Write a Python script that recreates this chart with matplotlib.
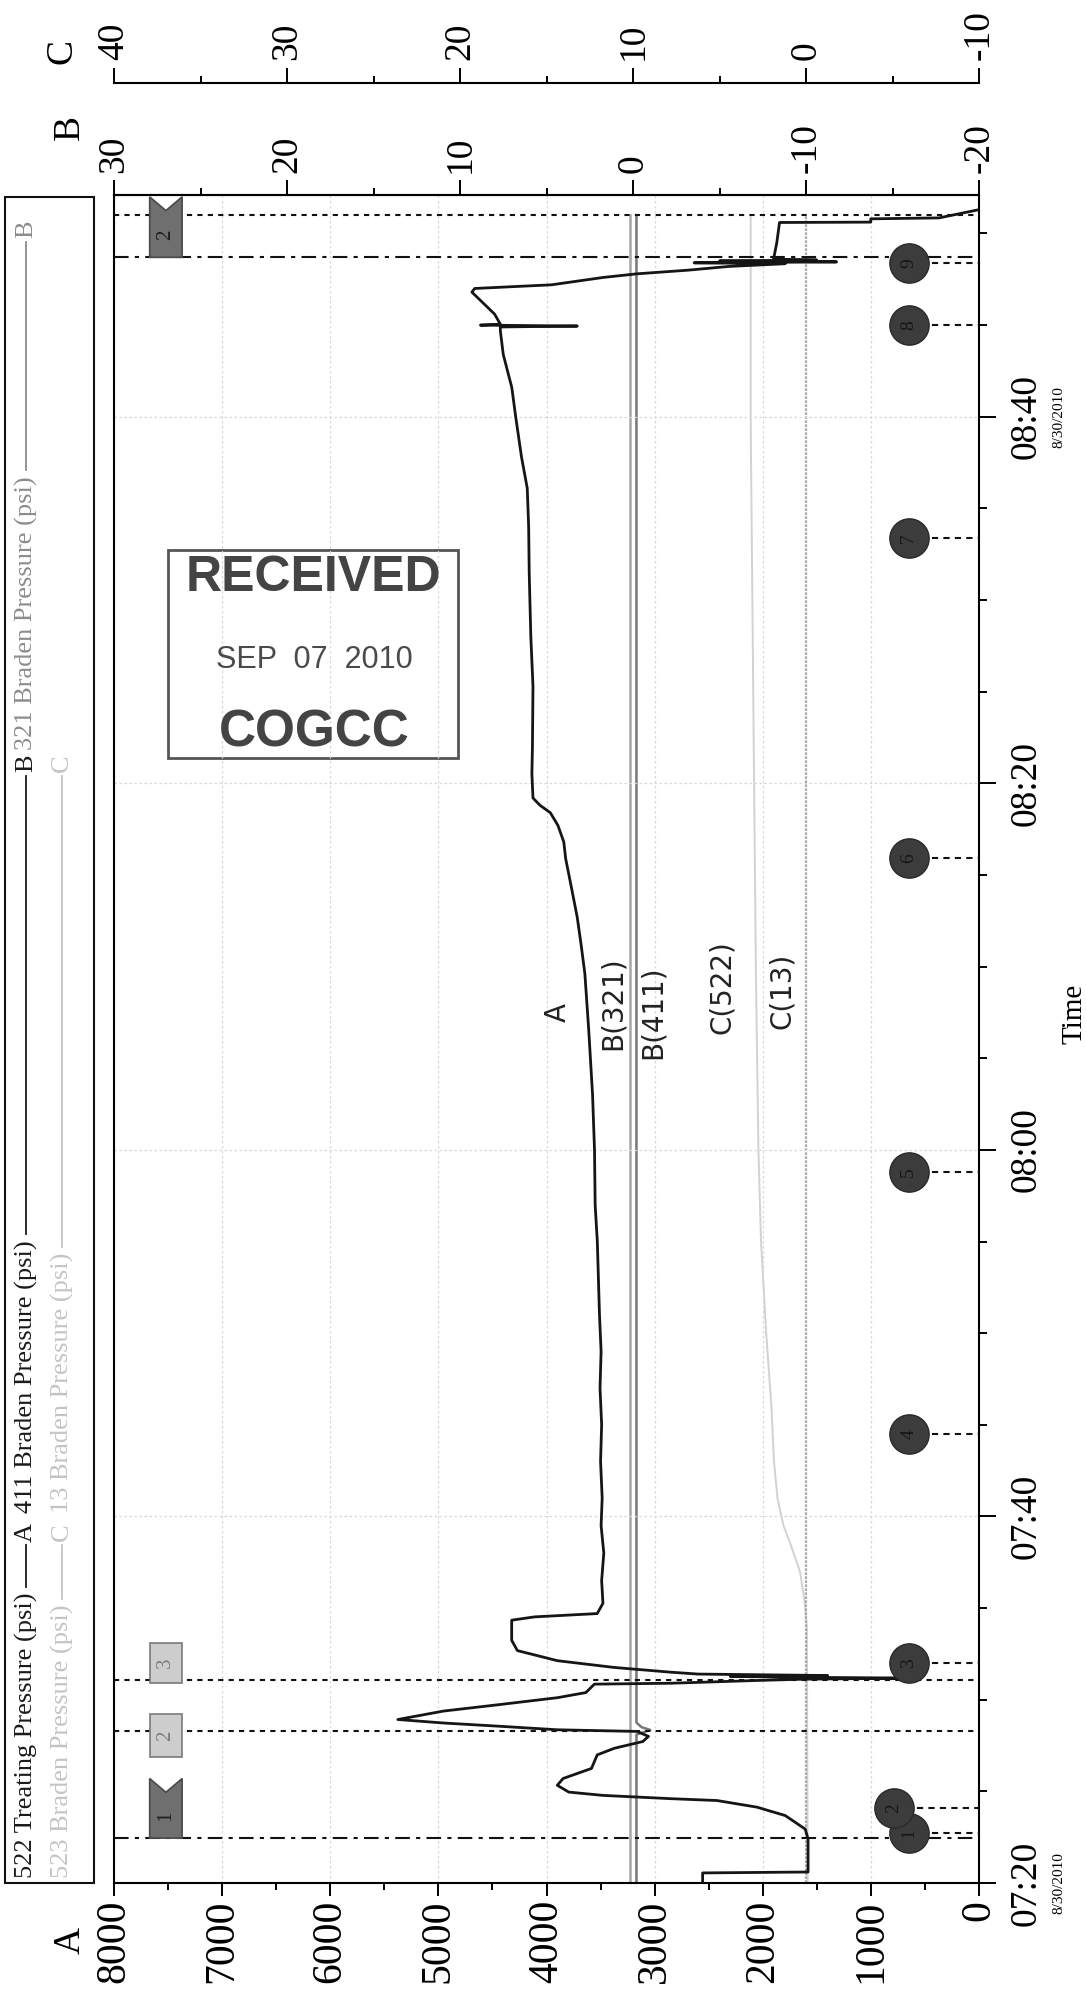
import matplotlib
matplotlib.use('Agg')
import matplotlib.pyplot as plt
from matplotlib.patches import Rectangle, Polygon
from matplotlib.lines import Line2D

plt.rcParams['font.family'] = ['Liberation Serif', 'DejaVu Serif']
plt.rcParams['axes.unicode_minus'] = False

# time = minutes after 07:20 on 8/30/2010
# A axis: 522 treating pressure (psi)
t_a = [0.0, 0.55, 0.6, 2.4, 2.94, 3.68, 4.14, 4.5, 4.6, 4.69, 4.78, 4.96, 5.33, 5.7,
       6.25, 6.99, 7.35, 7.72, 8.0, 8.27, 8.36, 8.55, 8.73, 8.92, 9.38, 9.74, 10.11,
       10.39, 10.85, 10.9, 11.05, 11.12, 11.18, 11.22, 11.27, 11.32, 11.4, 11.5, 11.76,
       12.13, 12.68, 13.24, 14.34, 14.52, 14.7, 15.26, 16.5, 18.0, 19.5, 21.0, 23.0,
       25.0, 27.0, 29.0, 31.0, 33.0, 35.0, 37.0, 40.0, 43.0, 46.5, 49.6, 51.2, 52.7,
       54.3, 55.9, 56.8, 57.7, 58.4, 58.8, 59.2, 60.5, 62.0, 65.3, 68.0, 71.5, 74.0,
       76.1, 77.8, 80.0, 81.6, 83.4, 84.7, 84.9, 84.95, 85.0, 85.05, 85.6, 86.8, 87.0,
       87.2, 87.6, 87.8, 88.0, 88.2, 88.35, 88.4, 88.45, 88.5, 88.55, 88.6, 89.5, 90.6,
       90.62, 90.8, 90.85, 91.3]
a_522 = [2556, 2556, 1581, 1581, 1607, 1792, 2055, 2424, 2846, 3162, 3478, 3794, 3900, 3847,
         3584, 3531, 3373, 3109, 3057, 3162, 3900, 4427, 4954, 5375, 4954, 4427, 3900,
         3636, 3557, 2846, 2055, 1634, 632, 1581, 2300, 1400, 2600, 2846, 3373,
         3900, 4269, 4322, 4322, 4111, 3531, 3478, 3490, 3470, 3495, 3485, 3500,
         3490, 3505, 3495, 3510, 3520, 3530, 3550, 3556, 3574, 3609, 3645, 3680, 3716,
         3769, 3823, 3840, 3894, 3965, 4060, 4125, 4135, 4130, 4125, 4145, 4160, 4165,
         4178, 4231, 4285, 4321, 4400, 4427, 4427, 3715, 4611, 4427, 4480, 4690, 4664,
         3953, 3478, 3162, 2688, 2319, 1792, 2635, 1317, 2400, 1500, 1900, 1870, 1845,
         1001, 1001, 370, 0]

# B axis: 411 / 321 braden pressure
t_b = [0.0, 8.1, 8.35, 8.5, 8.75, 91.0]
b_411 = [-0.2, -0.2, -1.0, -0.5, -0.2, -0.2]
b_321 = [0.15, 0.15, 0.15, 0.15, 0.15, 0.15]

# C axis: 523 / 13 braden pressure
t_c = [0.0, 14.0, 15.5, 17.0, 18.5, 19.5, 21.0, 23.0, 26.0, 30.0, 35.0, 40.0, 50.0,
       60.0, 70.0, 80.0, 88.0, 91.0]
c_523 = [-0.1, -0.05, 0.1, 0.35, 0.9, 1.3, 1.65, 1.85, 2.0, 2.3, 2.6, 2.75, 2.9,
         3.0, 3.1, 3.2, 3.2, 3.2]
t_c13 = [0.0, 91.0]
c_13 = [0.0, 0.0]

time_ticks = [0, 20, 40, 60, 80]
time_labels = ['07:20', '07:40', '08:00', '08:20', '08:40']
time_minor = [5, 10, 15, 25, 30, 35, 45, 50, 55, 65, 70, 75, 85, 90]
date_ticks = [0, 80]
a_ticks = [0, 1000, 2000, 3000, 4000, 5000, 6000, 7000, 8000]
a_minor = [500, 1500, 2500, 3500, 4500, 5500, 6500, 7500]
b_ticks = [30, 20, 10, 0, -10, -20]
b_minor = [25, 15, 5, -5, -15]
c_ticks = [40, 30, 20, 10, 0, -10]
c_minor = [35, 25, 15, 5, -5]

# event flags (number, start, end, dark?)
flag_nums = ['1', '2', '3', '2']
flag_t0 = [2.45, 6.9, 10.9, 88.7]
flag_t1 = [5.7, 9.2, 13.1, 92.0]
flag_dark = [True, False, False, True]
event_t = [2.48, 8.27, 11.1, 88.7, 91.0]
event_dashdot = [True, False, False, True, False]

# numbered stage circles
circle_nums = ['1', '2', '3', '4', '5', '6', '7', '8', '9']
circle_t = [2.75, 4.1, 12.0, 24.5, 38.8, 55.9, 73.4, 85.0, 88.4]
circle_a = [650, 790, 650, 650, 650, 650, 650, 650, 650]

legend_names = ['522 Treating Pressure (psi)', '411 Braden Pressure (psi)',
                '321 Braden Pressure (psi)', '523 Braden Pressure (psi)',
                '13 Braden Pressure (psi)']
legend_axis = ['A', 'B', 'B', 'C', 'C']
legend_colors = ['#1a1a1a', '#1a1a1a', '#8c8c8c', '#c4c4c4', '#c4c4c4']

notes = ['A', 'B(321)', 'B(411)', 'C(522)', 'C(13)']
note_a = [3894, 3385, 3015, 2377, 1822]
note_t = [47.5, 48.0, 47.5, 48.9, 48.7]

W, H = 1086, 1995
fig = plt.figure(figsize=(W / 100, H / 100), dpi=100)
fig.patch.set_facecolor('white')


def fx(px):
    return px / W


def fy(py):
    return 1 - py / H


ax = fig.add_axes([fx(114), fy(1883), (979 - 114) / W, (1883 - 195) / H])
axB = ax.twiny()
axC = ax.twiny()
ax.set_zorder(3)
ax.patch.set_visible(False)

ax.set_xlim(8000, 0)
ax.set_ylim(0, 92.1)
axB.set_xlim(30, -20)
axC.set_xlim(40, -10)

# series
axC.plot(c_523, t_c, color='#d2d2d2', lw=1.4)
axC.plot(c_13, t_c13, color='#a9a9a9', lw=1.6, ls=(0, (1.2, 0.6)))
axB.plot(b_321, t_b, color='#a6a6a6', lw=1.8)
axB.plot(b_411, t_b, color='#777777', lw=1.8)
ax.plot(a_522, t_a, color='#151515', lw=2.0, zorder=5)

# grid
ax.set_xticks(a_ticks)
ax.set_xticks(a_minor, minor=True)
ax.set_yticks(time_ticks)
ax.set_yticks(time_minor, minor=True)
ax.grid(True, which='major', color='#d8d8d8', lw=0.9, ls=(0, (2, 2)))

# A axis at the bottom
ax.set_xticklabels([str(v) for v in a_ticks])
ax.tick_params(axis='x', which='major', direction='out', length=9, width=1.4,
               labelsize=30, labelrotation=90, pad=3)
ax.tick_params(axis='x', which='minor', direction='out', length=5, width=1.4)
ax.tick_params(axis='x', top=False, labeltop=False)

# time axis on the right
ax.yaxis.tick_right()
ax.set_yticklabels(time_labels)
ax.tick_params(axis='y', which='major', direction='out', length=12, width=1.4,
               labelsize=27, labelrotation=90, pad=10)
ax.tick_params(axis='y', which='minor', direction='out', length=6, width=1.4)
for lab in ax.get_yticklabels():
    lab.set_va('center')
ax.yaxis.set_label_position('right')
ax.set_ylabel('Time', fontsize=21, rotation=90)
ax.yaxis.set_label_coords((1062 - 114) / 865, 0.515)
for t in date_ticks:
    ax.text((1059 - 114) / 865, t, '8/30/2010', transform=ax.get_yaxis_transform(),
            rotation=90, ha='center', va='center', fontsize=11, clip_on=False)

for s in ax.spines.values():
    s.set_linewidth(1.5)

# B axis on top
axB.set_xticks(b_ticks)
axB.set_xticks(b_minor, minor=True)
axB.set_xticklabels([str(v) for v in b_ticks])
axB.tick_params(axis='x', which='major', direction='out', length=11, width=1.4,
                labelsize=27, labelrotation=90, pad=5)
axB.tick_params(axis='x', which='minor', direction='out', length=5, width=1.4)
for s in ['left', 'right', 'bottom']:
    axB.spines[s].set_visible(False)
axB.spines['top'].set_linewidth(1.5)

# C axis above it
axC.spines['top'].set_position(('outward', 81))
for s in ['left', 'right', 'bottom']:
    axC.spines[s].set_visible(False)
axC.spines['top'].set_linewidth(1.5)
axC.set_xticks(c_ticks)
axC.set_xticks(c_minor, minor=True)
axC.set_xticklabels([str(v) for v in c_ticks])
axC.tick_params(axis='x', which='major', direction='out', length=11, width=1.4,
                labelsize=27, labelrotation=90, pad=5)
axC.tick_params(axis='x', which='minor', direction='out', length=5, width=1.4)

# axis letters
fig.text(fx(70), fy(1940), 'A', rotation=90, ha='center', va='center', fontsize=27)
fig.text(fx(70), fy(127), 'B', rotation=90, ha='center', va='center', fontsize=27)
fig.text(fx(62), fy(52), 'C', rotation=90, ha='center', va='center', fontsize=27)

# event lines across the chart
for t, dd in zip(event_t, event_dashdot):
    ls = (0, (7, 3, 2, 3)) if dd else (0, (2.5, 2.5))
    ax.plot([8000, 0], [t, t], color='#111111', lw=1.5, ls=ls, zorder=4)

# event flags
a_l, a_r = 7670, 7370
for num, t0, t1, dark in zip(flag_nums, flag_t0, flag_t1, flag_dark):
    if dark:
        pts = [(a_l, t0), (a_r, t0), (a_r, t1), ((a_l + a_r) / 2, t1 - 0.75), (a_l, t1)]
        poly = Polygon(pts, closed=True, facecolor='#6f6f6f', edgecolor='#4a4a4a',
                       lw=1.2, zorder=6)
        tc = '#1e1e1e'
        ty = t0 + (t1 - t0) * 0.38
    else:
        pts = [(a_l, t0), (a_r, t0), (a_r, t1), (a_l, t1)]
        poly = Polygon(pts, closed=True, facecolor='#cdcdcd', edgecolor='#7a7a7a',
                       lw=1.2, zorder=6)
        tc = '#7d7d7d'
        ty = (t0 + t1) / 2
    ax.add_patch(poly)
    ax.text((a_l + a_r) / 2, ty, num, rotation=90, ha='center', va='center',
            fontsize=15, color=tc, zorder=7)

# stage circles with dashes to the time axis
for num, t, a in zip(circle_nums, circle_t, circle_a):
    ax.plot([a, 0], [t, t], color='#111111', lw=1.5, ls=(0, (3, 2.5)), zorder=4)
ax.scatter(circle_a, circle_t, s=800, color='#3c3c3c', edgecolor='#2a2a2a',
           lw=1.0, zorder=6)
for num, t, a in zip(circle_nums, circle_t, circle_a):
    ax.text(a, t, num, rotation=90, ha='center', va='center', fontsize=14,
            color='#161616', zorder=7)

# handwritten notes
for s, a, t in zip(notes, note_a, note_t):
    ax.text(a, t, s, rotation=90, ha='center', va='center', fontsize=20,
            family='DejaVu Sans', color='#222222', zorder=7)

# legend box (rotated): text from column start, line running up to the axis letter
fig.add_artist(Rectangle((fx(5), fy(1883)), (94 - 5) / W, (1883 - 197) / H,
                         transform=fig.transFigure, fill=False, edgecolor='#111111',
                         lw=1.5))
legend_x = [26, 26, 26, 62, 62]
legend_start = [1878, 1513, 750, 1878, 1513]
legend_end = [1532, 763, 229, 1532, 763]
renderer = fig.canvas.get_renderer()
for name, letter, col, lx, ly, le in zip(legend_names, legend_axis, legend_colors,
                                         legend_x, legend_start, legend_end):
    txt = fig.text(fx(lx), fy(ly), name, rotation=90, ha='center', va='bottom',
                   fontsize=19, color=col)
    bb = txt.get_window_extent(renderer)
    y0 = bb.y1 + 6
    y1 = H - le - 13
    fig.add_artist(Line2D([fx(lx), fx(lx)], [y0 / H, y1 / H],
                          transform=fig.transFigure, color=col, lw=1.3))
    fig.text(fx(lx), fy(le), letter, rotation=90, ha='center', va='center',
             fontsize=19, color=col)

# received stamp
fig.add_artist(Rectangle((fx(168), fy(758)), (458 - 168) / W, (758 - 550) / H,
                         transform=fig.transFigure, fill=False, edgecolor='#555555',
                         lw=2.0))
fig.text(fx(313), fy(578), 'RECEIVED', ha='center', va='center', fontsize=36,
         fontweight='bold', family=['Liberation Sans', 'DejaVu Sans'], color='#444444')
fig.text(fx(314), fy(660), 'SEP  07  2010', ha='center', va='center', fontsize=22,
         family=['Liberation Sans', 'DejaVu Sans'], color='#4a4a4a')
fig.text(fx(314), fy(733), 'COGCC', ha='center', va='center', fontsize=37,
         fontweight='bold', family=['Liberation Sans', 'DejaVu Sans'], color='#444444')

fig.savefig('out.png', dpi=100, facecolor='white')
